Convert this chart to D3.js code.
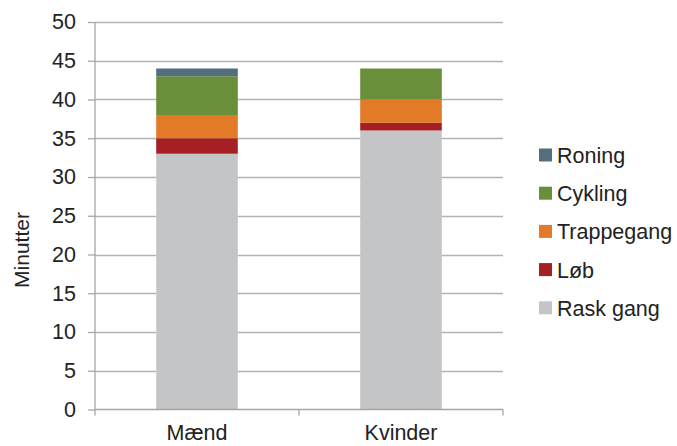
<!DOCTYPE html>
<html><head><meta charset="utf-8">
<script src="https://cdn.jsdelivr.net/npm/d3@7"></script>
<style>
body{margin:0;background:#fff;}
text{font-family:"Liberation Sans",Arial,sans-serif;fill:#222;}
</style></head>
<body><svg id="c" width="677" height="446"></svg>
<script>
const categories = ["Mænd", "Kvinder"];
const seriesNames = ["Rask gang", "Løb", "Trappegang", "Cykling", "Roning"];
const raskGang = [33, 36];
const lob = [2, 1];
const trappegang = [3, 3];
const cykling = [5, 4];
const roning = [1, 0];
const yTicks = [0, 5, 10, 15, 20, 25, 30, 35, 40, 45, 50];
const colors = ["#c4c5c7", "#a51f24", "#e27a28", "#6a8f3b", "#536f7c"];

const seriesValues = [raskGang, lob, trappegang, cykling, roning];
const rows = categories.map((c, i) => {
  const r = {cat: c};
  seriesNames.forEach((s, j) => r[s] = seriesValues[j][i]);
  return r;
});
const stacked = d3.stack().keys(seriesNames)(rows);

const svg = d3.select("#c");
const pLeft = 95, pRight = 503, pTop = 22, pBottom = 409.5;
const y = d3.scaleLinear().domain([0, 50]).range([pBottom, pTop]);
const x = d3.scaleBand().domain(categories).range([pLeft, pRight]).padding(0);
const barW = x.bandwidth() * 0.4;

// gridlines
svg.append("g").selectAll("line").data(yTicks.filter(d => d > 0)).join("line")
  .attr("x1", pLeft).attr("x2", pRight)
  .attr("y1", d => Math.round(y(d)) + 0.5).attr("y2", d => Math.round(y(d)) + 0.5)
  .attr("stroke", "#b3b3b3").attr("stroke-width", 1.3);

// bars
svg.append("g").selectAll("g").data(stacked).join("g")
  .attr("fill", (d, i) => colors[i])
  .selectAll("rect").data(d => d).join("rect")
  .attr("x", d => x(d.data.cat) + (x.bandwidth() - barW) / 2)
  .attr("width", barW)
  .attr("y", d => y(d[1]))
  .attr("height", d => y(d[0]) - y(d[1]));

// y axis
const yAxis = svg.append("g").attr("transform", `translate(${pLeft},0)`)
  .call(d3.axisLeft(y).tickValues(yTicks).tickSize(7).tickPadding(12).tickFormat(d3.format("d")));
yAxis.select(".domain").attr("d", `M0,${pTop}V${pBottom + 6}`);
yAxis.selectAll("path,line").attr("stroke", "#a6a6a6").attr("stroke-width", 1.3);
yAxis.selectAll("text").attr("font-size", 21.5).attr("font-family", "Liberation Sans, Arial, sans-serif").attr("fill", "#222");

// x axis
const xg = svg.append("g");
xg.append("line").attr("x1", pLeft).attr("x2", pRight).attr("y1", pBottom).attr("y2", pBottom)
  .attr("stroke", "#a6a6a6").attr("stroke-width", 1.3);
const bounds = [x(categories[0]) + x.bandwidth(), x(categories[1]) + x.bandwidth()];
xg.selectAll("line.t").data(bounds).join("line").attr("class", "t")
  .attr("x1", d => d).attr("x2", d => d).attr("y1", pBottom).attr("y2", pBottom + 6)
  .attr("stroke", "#a6a6a6").attr("stroke-width", 1.3);
xg.selectAll("text").data(categories).join("text")
  .attr("x", d => x(d) + x.bandwidth() / 2).attr("y", 440)
  .attr("text-anchor", "middle").attr("font-size", 21.5).text(d => d);

// y label
svg.append("text").attr("transform", "translate(28.5,250) rotate(-90)")
  .attr("text-anchor", "middle").attr("font-size", 21).text("Minutter");

// legend
const legendOrder = seriesNames.slice().reverse();
const lg = svg.append("g").selectAll("g").data(legendOrder).join("g")
  .attr("transform", (d, i) => `translate(539,${155 + i * 38.2})`);
lg.append("rect").attr("x", 0).attr("y", -6.5).attr("width", 13).attr("height", 13)
  .attr("fill", d => colors[seriesNames.indexOf(d)]);
lg.append("text").attr("x", 18).attr("y", 8).attr("font-size", 21.5).text(d => d);
</script></body></html>
